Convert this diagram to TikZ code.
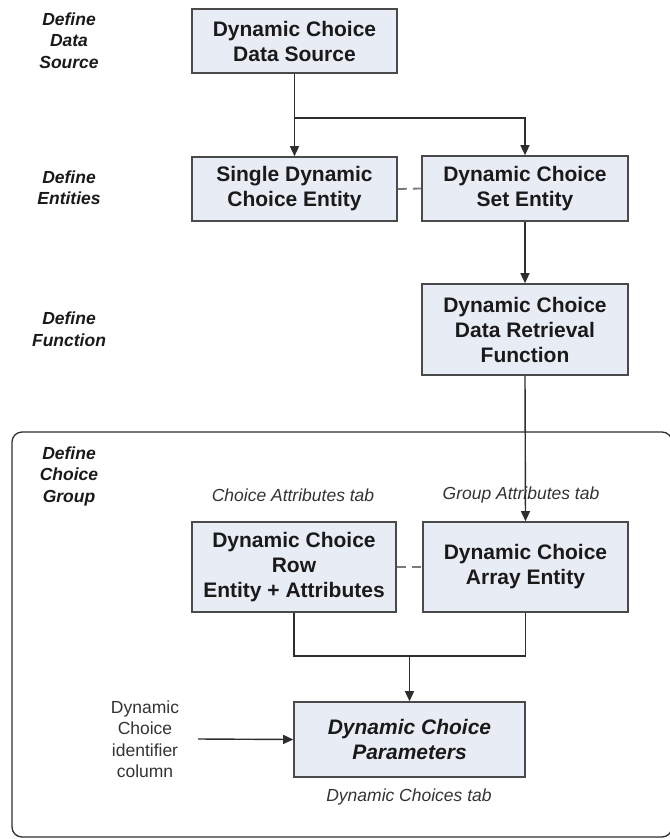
\documentclass[tikz,border=0pt]{standalone}
\usepackage{fontspec}
\setmainfont{Liberation Sans}
\usetikzlibrary{arrows.meta}
\definecolor{boxfill}{HTML}{E8ECF5}
\definecolor{boxline}{HTML}{4A4A4A}
\definecolor{linecol}{HTML}{2E2E2E}
\definecolor{dashcol}{HTML}{7A7A7A}
\definecolor{txt}{HTML}{1A1A1A}
\definecolor{smalltxt}{HTML}{333333}
\tikzset{
  procbox/.style={draw=boxline, line width=1.6pt, fill=boxfill, rectangle, align=center, inner sep=0pt,
    text=txt, font=\fontsize{21}{25}\selectfont\bfseries},
  stagelabel/.style={align=center, text=txt, inner sep=0pt, font=\fontsize{17.5}{21.5}\selectfont\bfseries\itshape},
  tablabel/.style={align=center, text=smalltxt, inner sep=0pt, font=\fontsize{17.5}{21.5}\selectfont\itshape},
  plainlabel/.style={align=center, text=smalltxt, inner sep=0pt, font=\fontsize{17.5}{21.5}\selectfont},
  conn/.style={draw=linecol, line width=1.4pt},
  arrowconn/.style={conn, -{Triangle[length=10pt,width=9pt]}},
  dashconn/.style={draw=dashcol, line width=1.8pt, dash pattern=on 9pt off 6pt},
}
\begin{document}
\begin{tikzpicture}[x=1pt, y=-1pt]
\useasboundingbox (0,0) rectangle (670,839);
% container
\draw[draw=linecol, line width=1.3pt, rounded corners=10pt] (12,432) rectangle (672,837);
% boxes
\node[procbox, minimum width=205pt, minimum height=64pt] (src) at (294.5,41) {Dynamic Choice\\Data Source};
\node[procbox, minimum width=205pt, minimum height=64pt] (single) at (294.5,189) {Single Dynamic\\Choice Entity};
\node[procbox, minimum width=206pt, minimum height=65pt] (set) at (525,188.5) {Dynamic Choice\\Set Entity};
\node[procbox, minimum width=206pt, minimum height=91pt] (func) at (525,329.5) {Dynamic Choice\\Data Retrieval\\Function};
\node[procbox, minimum width=204pt, minimum height=90pt] (row) at (294,567) {Dynamic Choice\\Row\\Entity + Attributes};
\node[procbox, minimum width=205pt, minimum height=90pt] (arr) at (525.5,567) {Dynamic Choice\\Array Entity};
\node[procbox, minimum width=231pt, minimum height=75pt, font=\fontsize{21}{25}\selectfont\bfseries\itshape] (par) at (409.5,739.5) {Dynamic Choice\\Parameters};
% stage labels
\node[stagelabel] (l1) at (69,40.5) {Define\\Data\\Source};
\node[stagelabel] (l2) at (69,187.5) {Define\\Entities};
\node[stagelabel] (l3) at (69,329) {Define\\Function};
\node[stagelabel] (l4) at (69,476) {Define\\Choice\\Group};
% tab labels
\node[tablabel] (t1) at (293,495) {Choice Attributes tab};
\node[tablabel] (t2) at (521,495) {Group Attributes tab};
\node[tablabel] (t3) at (409,797) {Dynamic Choices tab};
\node[plainlabel] (idc) at (145,739) {Dynamic\\Choice\\identifier\\column};
% connectors
\coordinate (j1) at (294.5,118);
\coordinate (j2) at (409.5,656);
\coordinate (idend) at (198,739);
\draw[arrowconn] (src.south) -- (single.north);
\draw[arrowconn] (j1) -| (set.north);
\draw[dashconn] (single.east) -- (set.west);
\draw[arrowconn] (set.south) -- (func.north);
\draw[arrowconn] (func.south) -- (arr.north);
\draw[dashconn] (row.east) -- (arr.west);
\draw[conn] (row.south) |- (j2) -| (arr.south);
\draw[arrowconn] (j2) -- (par.north);
\draw[arrowconn] (idend) -- (par.west);
\end{tikzpicture}
\end{document}
